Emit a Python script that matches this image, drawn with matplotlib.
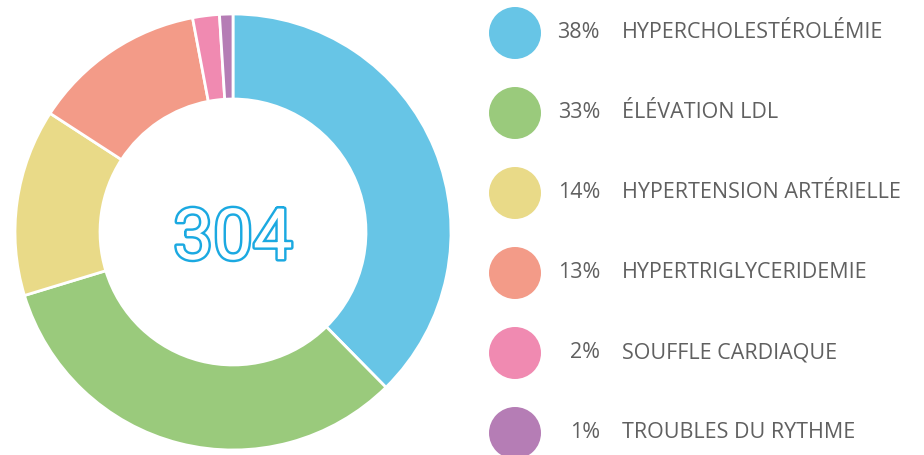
import matplotlib
matplotlib.use("Agg")
import numpy as np
from matplotlib import pyplot as plt
from matplotlib import patheffects as pe

# data
labels = ["HYPERCHOLESTÉROLÉMIE", "ÉLÉVATION LDL", "HYPERTENSION ARTÉRIELLE",
          "HYPERTRIGLYCERIDEMIE", "SOUFFLE CARDIAQUE", "TROUBLES DU RYTHME"]
percents = [38, 33, 14, 13, 2, 1]
colors = ["#67c5e6", "#9aca7c", "#e9da88", "#f39b88", "#f08ab1", "#b57db5"]
total = "304"

W, H = 924, 455
fig = plt.figure(figsize=(W / 100, H / 100), dpi=100)

# region Donut
cx, cy, r = 233, 223, 218
ax = fig.add_axes([(cx - r) / W, (cy - r) / H, 2 * r / W, 2 * r / H])
ax.pie(percents, colors=colors, startangle=90, counterclock=False,
       radius=1, wedgeprops=dict(width=0.39, edgecolor="white", linewidth=2))
ax.set_aspect("equal")
ax.set_xlim(-1, 1)
ax.set_ylim(-1, 1)
ax.axis("off")
ax.text(0, -0.035, total, ha="center", va="center", fontsize=51,
        family=["Liberation Sans Narrow", "Roboto", "DejaVu Sans"], color="white",
        path_effects=[pe.withStroke(linewidth=3.5, foreground="#1ba9e1")])
# endregion

# region Legend
lax = fig.add_axes([0, 0, 1, 1])
lax.set_xlim(0, W)
lax.set_ylim(H, 0)
lax.axis("off")
ys = 33 + 80 * np.arange(len(labels))
lax.scatter([515] * len(labels), ys, s=(26 * 0.72 * 2) ** 2, c=colors, linewidths=0)
for y, p, lab in zip(ys, percents, labels):
    lax.text(600, y, f"{p}%", ha="right", va="center", fontsize=15.5,
             family="Open Sans", color="#606060")
    lax.text(622, y, lab, ha="left", va="center", fontsize=15.5,
             family="Open Sans", color="#606060")
# endregion

fig.savefig("out.png", dpi=100)
